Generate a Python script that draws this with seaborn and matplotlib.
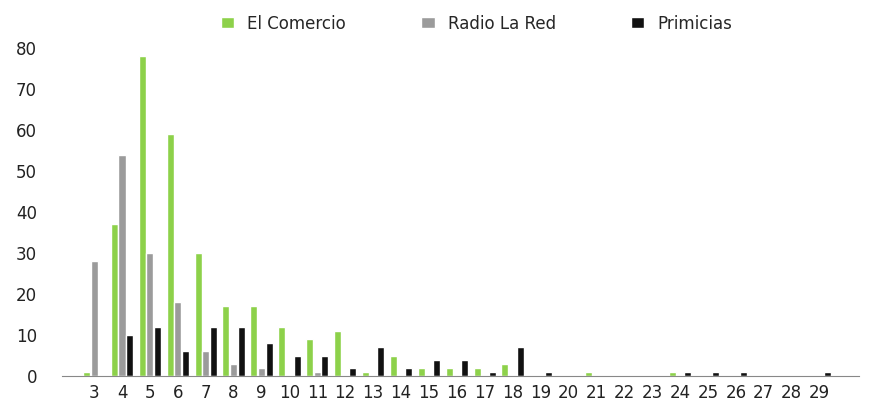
import matplotlib
matplotlib.use("Agg")
import matplotlib.pyplot as plt
import seaborn as sns
import pandas as pd

categories = list(range(3, 30))
el_comercio = [1,37,78,59,30,17,17,12,9,11,1,5,2,2,2,3,0,0,1,0,0,1,0,0,0,0,0]
radio_la_red = [28,54,30,18,6,3,2,0,1,0,0,0,0,0,0,0,0,0,0,0,0,0,0,0,0,0,0]
primicias = [0,10,12,6,12,12,8,5,5,2,7,2,4,4,1,7,1,0,0,0,0,1,1,1,0,0,1]

df = pd.DataFrame({"cat": [str(c) for c in categories]*3,
                   "val": el_comercio+radio_la_red+primicias,
                   "serie": ["El Comercio"]*27+["Radio La Red"]*27+["Primicias"]*27})

sns.set_style("white")
fig, ax = plt.subplots(figsize=(8.86, 4.16), dpi=100)
sns.barplot(data=df, x="cat", y="val", hue="serie", ax=ax,
            palette=["#8dd14a", "#9b9b9b", "#111111"], width=0.82, gap=0.08,
            saturation=1)
ax.set_ylim(0, 85)
ax.set_yticks(range(0, 90, 10))
ax.set_xlabel(""); ax.set_ylabel("")
ax.set_xlim(-1.15, 27.43)
for s in ["top", "right", "left"]:
    ax.spines[s].set_visible(False)
ax.spines["bottom"].set_color("#888888")
ax.tick_params(axis="both", labelsize=12, length=0, colors="#222222")
ax.tick_params(axis="x", pad=6)
ax.tick_params(axis="y", pad=18)
ax.legend(loc="upper center", bbox_to_anchor=(0.52, 1.08), ncol=3, frameon=False,
          fontsize=12, handlelength=0.8, handleheight=0.6, columnspacing=4.5)
fig.subplots_adjust(left=0.07, right=0.97, top=0.934, bottom=0.096)
fig.savefig("out.png")
